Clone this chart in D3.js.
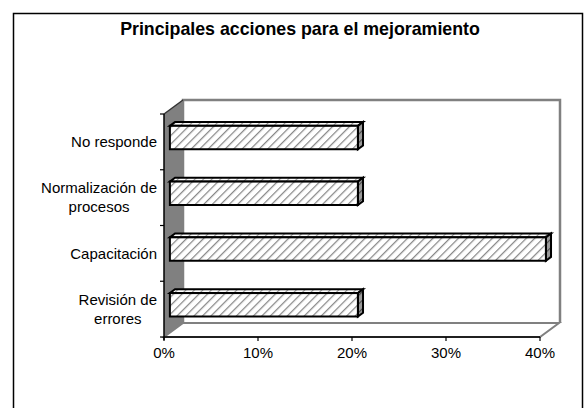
<!DOCTYPE html>
<html>
<head>
<meta charset="utf-8">
<script src="https://cdn.jsdelivr.net/npm/d3@7"></script>
<style>
  html, body { margin: 0; padding: 0; background: #fff; }
  svg { display: block; }
  text { font-family: "Liberation Sans", Arial, sans-serif; fill: #000; }
</style>
</head>
<body>
<svg id="chart" width="584" height="408"></svg>
<script>
// Categories listed top to bottom as they appear on the axis
const categories = [
  ["No responde"],
  ["Normalización de", "procesos"],
  ["Capacitación"],
  ["Revisión de", "errores"]
];
const values = [0.20, 0.20, 0.40, 0.20];
const xTicks = [0, 0.1, 0.2, 0.3, 0.4];
const title = "Principales acciones para el mejoramiento";

const svg = d3.select("#chart");

// Plot frame (front plane) and 3D depth offsets
const plotLeft = 164, plotRight = 540, plotTop = 114, plotBottom = 337;
const depthX = 19, depthY = 14;
const z1 = 0.31, z2 = 0.58; // bar front/back depth fractions

const x = d3.scaleLinear().domain([0, 0.4]).range([plotLeft, plotRight]);
const y = d3.scaleBand()
  .domain(d3.range(categories.length))
  .range([plotTop, plotBottom])
  .paddingInner(0.58)
  .paddingOuter(0.29);

// Hatch patterns
const defs = svg.append("defs");
function hatch(id, bg, fg, w) {
  const p = defs.append("pattern")
    .attr("id", id)
    .attr("patternUnits", "userSpaceOnUse")
    .attr("width", 6).attr("height", 6)
    .attr("patternTransform", "rotate(45)");
  p.append("rect").attr("width", 6).attr("height", 6).attr("fill", bg);
  p.append("line").attr("x1", 0).attr("y1", 0).attr("x2", 0).attr("y2", 6)
    .attr("stroke", fg).attr("stroke-width", w);
}
hatch("hFront", "#ffffff", "#888888", 2.5);
hatch("hTop", "#ffffff", "#999999", 2.2);
hatch("hSide", "#9a9a9a", "#4a4a4a", 2.2);

// Outer chart border
svg.append("rect")
  .attr("x", 13.5).attr("y", 13.5)
  .attr("width", 569).attr("height", 420)
  .attr("fill", "#fff").attr("stroke", "#000").attr("stroke-width", 1.5);

// Title
svg.append("text")
  .attr("x", 300).attr("y", 35)
  .attr("text-anchor", "middle")
  .attr("font-size", 17.8).attr("font-weight", "bold")
  .text(title);

const pt = (px, py) => px + "," + py;

// Back wall
svg.append("path")
  .attr("d", `M${plotLeft + depthX},${plotBottom - depthY} L${plotLeft + depthX},${plotTop - depthY} L${plotRight + depthX + 1},${plotTop - depthY} L${plotRight + depthX + 1},${plotBottom - depthY}`)
  .attr("fill", "none").attr("stroke", "#808080").attr("stroke-width", 2.5);

// Floor
svg.append("polygon")
  .attr("points", [pt(plotLeft, plotBottom), pt(plotLeft + depthX, plotBottom - depthY),
                   pt(plotRight + depthX, plotBottom - depthY), pt(plotRight, plotBottom)].join(" "))
  .attr("fill", "#fff").attr("stroke", "#808080").attr("stroke-width", 2);

// Left side wall
svg.append("polygon")
  .attr("points", [pt(plotLeft, plotTop), pt(plotLeft + depthX, plotTop - depthY),
                   pt(plotLeft + depthX, plotBottom - depthY), pt(plotLeft, plotBottom)].join(" "))
  .attr("fill", "#808080").attr("stroke", "none");
svg.append("line")
  .attr("x1", plotLeft).attr("y1", plotTop).attr("x2", plotLeft + depthX).attr("y2", plotTop - depthY)
  .attr("stroke", "#333").attr("stroke-width", 1.5);

// Bars
const bars = svg.append("g");
categories.forEach((c, i) => {
  const x0 = x(0) + depthX * z1;
  const x1 = x(values[i]) + depthX * z1;
  const yT = y(i) - depthY * z1;
  const yB = yT + y.bandwidth();
  const ddx = depthX * (z2 - z1), ddy = depthY * (z2 - z1);
  const g = bars.append("g")
    .attr("stroke", "#000").attr("stroke-width", 2).attr("stroke-linejoin", "miter");
  g.append("polygon")
    .attr("points", [pt(x0, yT), pt(x0 + ddx, yT - ddy), pt(x1 + ddx, yT - ddy), pt(x1, yT)].join(" "))
    .attr("fill", "url(#hTop)");
  g.append("polygon")
    .attr("points", [pt(x1, yT), pt(x1 + ddx, yT - ddy), pt(x1 + ddx, yB - ddy), pt(x1, yB)].join(" "))
    .attr("fill", "url(#hSide)");
  g.append("rect")
    .attr("x", x0).attr("y", yT)
    .attr("width", x1 - x0).attr("height", yB - yT)
    .attr("fill", "url(#hFront)");
});

// Category axis
const axisG = svg.append("g");
axisG.append("line")
  .attr("x1", plotLeft).attr("y1", plotTop).attr("x2", plotLeft).attr("y2", plotBottom + 3)
  .attr("stroke", "#000").attr("stroke-width", 1.5);
const boundaries = d3.range(categories.length + 1).map(k => plotTop + k * y.step());
axisG.selectAll("line.cat-tick").data(boundaries).join("line")
  .attr("class", "cat-tick")
  .attr("x1", plotLeft - 4).attr("x2", plotLeft)
  .attr("y1", d => d).attr("y2", d => d)
  .attr("stroke", "#000").attr("stroke-width", 1.2);

const lineH = 19;
categories.forEach((lines, i) => {
  const cy = y(i) + y.bandwidth() / 2;
  const t = axisG.append("text")
    .attr("text-anchor", "middle")
    .attr("font-size", 15);
  const cx = 157;
  lines.forEach((ln, k) => {
    t.append("tspan")
      .attr("x", cx)
      .attr("y", cy + (k - (lines.length - 1) / 2) * lineH)
      .attr("dy", "0.35em")
      .text(ln);
  });
  // right-align the block while lines stay centred on each other
  const bb = t.node().getBBox();
  t.attr("transform", `translate(${-(bb.width / 2)},0)`);
});

// Value axis
axisG.append("line")
  .attr("x1", plotLeft).attr("y1", plotBottom).attr("x2", plotRight).attr("y2", plotBottom)
  .attr("stroke", "#000").attr("stroke-width", 1.5);
axisG.selectAll("line.val-tick").data(xTicks).join("line")
  .attr("class", "val-tick")
  .attr("x1", d => x(d)).attr("x2", d => x(d))
  .attr("y1", plotBottom).attr("y2", plotBottom + 4)
  .attr("stroke", "#000").attr("stroke-width", 1.2);
axisG.selectAll("text.val-label").data(xTicks).join("text")
  .attr("class", "val-label")
  .attr("x", d => x(d)).attr("y", 358)
  .attr("text-anchor", "middle")
  .attr("font-size", 15)
  .text(d3.format(".0%"));
</script>
</body>
</html>
